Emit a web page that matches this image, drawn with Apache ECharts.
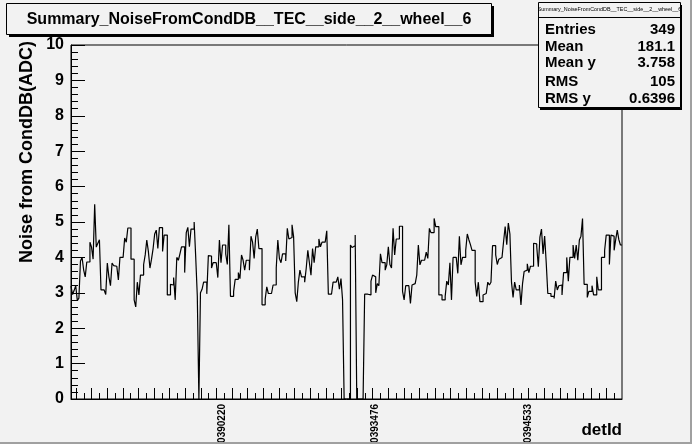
<!DOCTYPE html>
<html><head><meta charset="utf-8">
<script src="https://cdn.jsdelivr.net/npm/echarts@6/dist/echarts.min.js"></script>
<style>html,body{margin:0;padding:0;background:#f2f2f2}#c{width:692px;height:444px}</style>
</head><body><div id="c"></div>
<script>
const titleText = 'Summary_NoiseFromCondDB__TEC__side__2__wheel__6';
const yAxisTitle = 'Noise from CondDB(ADC)';
const xAxisTitle = 'detId';
const labelBins = [95, 192, 289];
const labelTexts = ['470390220', '470393476', '470394533'];
const statNames = ['Entries', 'Mean', 'Mean y', 'RMS', 'RMS y'];
const statValues = ['349', '181.1', '3.758', '105', '0.6396'];
const yMin = 0, yMax = 10, yStep = 1;
const xTickFirst = 3.2, xTickStep = 9.885;

const noise = [
  3.19, 2.95, 3.07, 3.2, 2.78, 2.85, 3.9, 4.0, 3.65, 3.45,
  3.87, 3.87, 4.43, 4.29, 3.95, 5.5, 4.29, 4.4, 4.5, 3.08,
  3.08, 3.05, 2.95, 3.84, 3.45, 3.2, 3.84, 3.77, 3.75, 3.73,
  3.36, 4.0, 4.0, 4.02, 4.55, 4.43, 4.83, 4.83, 3.95, 3.95,
  2.8, 2.6, 3.3, 2.94, 3.5, 3.5, 3.8, 4.07, 4.49, 4.17,
  3.7, 3.95, 4.25, 4.66, 4.77, 4.25, 4.84, 4.84, 4.17, 4.63,
  4.63, 2.94, 2.94, 3.24, 3.22, 3.43, 2.8, 4.0, 3.92, 4.1,
  4.3, 4.3, 3.57, 4.7, 4.85, 4.3, 4.8, 4.8, 5.0, 4.0,
  2.9, 0, 3.0, 3.1, 3.3, 3.3, 2.97, 4.05, 4.04, 3.7,
  3.85, 3.85, 3.85, 3.43, 4.49, 3.85, 4.35, 4.35, 4.1, 3.8,
  4.92, 2.9, 2.9, 3.04, 3.38, 3.38, 3.57, 3.4, 4.07, 3.92,
  3.64, 3.92, 3.92, 3.64, 4.6, 4.43, 3.97, 4.58, 4.8, 4.25,
  4.25, 2.66, 2.66, 2.82, 3.17, 2.98, 2.98, 2.98, 3.22, 3.22,
  3.7, 4.49, 3.97, 3.85, 4.1, 4.1, 3.9, 4.82, 4.52, 4.56,
  4.92, 4.58, 3.0, 2.75, 3.3, 3.64, 3.45, 3.45, 3.3, 3.7,
  4.2, 3.85, 3.5, 4.25, 3.85, 4.3, 4.3, 4.52, 4.3, 4.43,
  4.43, 4.43, 4.75, 2.96, 2.96, 2.96, 3.3, 3.3, 3.3, 3.45,
  3.1, 3.4, 2.8, 0, 0, 0, 0, 4.35, 4.28, 4.33,
  4.63, 0, 0, 0, 0, 0, 2.96, 2.96, 2.94, 2.94,
  3.33, 3.5, 3.45, 3.0, 3.26, 3.2, 4.1, 3.85, 3.85, 3.64,
  3.79, 4.3, 3.8, 3.7, 4.82, 4.07, 4.52, 4.52, 4.88, 4.88,
  3.04, 2.8, 3.2, 3.2, 3.22, 2.7, 3.22, 3.26, 3.26, 3.5,
  4.35, 3.79, 3.92, 3.92, 3.95, 4.15, 3.97, 4.82, 4.7, 4.7,
  5.1, 4.87, 4.87, 2.94, 2.94, 2.8, 2.8, 2.9, 3.33, 3.22,
  3.85, 2.8, 4.0, 4.0, 4.02, 3.55, 4.6, 3.79, 4.0, 4.0,
  4.2, 4.66, 4.5, 4.36, 4.2, 4.2, 3.3, 2.9, 3.3, 2.75,
  2.75, 2.94, 2.98, 3.0, 3.3, 3.22, 3.3, 4.33, 4.33, 4.07,
  3.8, 3.95, 4.0, 4.0, 4.45, 4.87, 4.36, 4.97, 4.66, 3.3,
  2.87, 3.3, 3.08, 3.08, 3.22, 2.66, 3.26, 3.6, 3.64, 3.82,
  3.57, 3.75, 3.75, 4.4, 4.38, 4.3, 3.74, 4.57, 4.8, 4.1,
  4.6, 3.85, 2.98, 2.98, 2.9, 2.9, 2.84, 3.33, 3.08, 3.2,
  3.22, 2.94, 3.57, 3.57, 4.0, 3.33, 4.0, 4.0, 4.35, 3.97,
  4.35, 3.92, 4.49, 4.6, 5.1, 3.24, 3.24, 2.87, 3.04, 3.04,
  3.2, 2.94, 2.94, 3.45, 3.08, 3.08, 4.0, 4.0, 4.2, 4.63,
  4.63, 3.8, 4.63, 4.6, 4.2, 4.5, 4.77, 4.5, 4.35
];

const nBins = noise.length;
const stepData = noise.map((v, i) => [i, v]);
stepData.push([nBins, noise[nBins - 1]]);

const longTicks = [], shortTicks = [];
for (let t = xTickFirst; t < nBins; t += xTickStep) {
  longTicks.push(+t.toFixed(3));
  const s = t + xTickStep / 2;
  if (s < nBins) shortTicks.push(+s.toFixed(3));
}
const labelValues = labelBins.map(b => b + 0.5);

const FONT = "'Liberation Sans', Arial, Helvetica, sans-serif";
const BG = '#f2f2f2';

const chart = echarts.init(document.getElementById('c'), null, {renderer: 'canvas'});

const graphics = [];
graphics.push({type: 'rect', z: 200, shape: {x: 690, y: 0, width: 2, height: 444}, style: {fill: '#a0a0a0'}});
graphics.push({type: 'rect', z: 200, shape: {x: 0, y: 442, width: 692, height: 2}, style: {fill: '#a0a0a0'}});
graphics.push({type: 'rect', z: 100, shape: {x: 9, y: 6, width: 485, height: 31}, style: {fill: '#000'}});
graphics.push({type: 'rect', z: 101, shape: {x: 6.5, y: 3.5, width: 485, height: 31}, style: {fill: BG, stroke: '#000', lineWidth: 1}});
graphics.push({type: 'text', z: 102, x: 249, y: 19.5, style: {text: titleText, font: 'bold 16px ' + FONT, fill: '#000', align: 'center', verticalAlign: 'middle'}});
graphics.push({type: 'rect', z: 100, shape: {x: 540, y: 5, width: 142, height: 105}, style: {fill: '#000'}});
graphics.push({type: 'rect', z: 101, shape: {x: 538.5, y: 2.5, width: 142, height: 105}, style: {fill: BG, stroke: '#000', lineWidth: 1}});
graphics.push({type: 'line', z: 102, shape: {x1: 538.5, y1: 17.5, x2: 680.5, y2: 17.5}, style: {stroke: '#000', lineWidth: 1}});
graphics.push({type: 'text', z: 102, x: 609.5, y: 10, style: {text: titleText, font: '5.4px ' + FONT, fill: '#000', align: 'center', verticalAlign: 'middle'}});
const rowY = [29.5, 47, 63, 82, 98.5];
statNames.forEach((n, i) => {
  graphics.push({type: 'text', z: 102, x: 545, y: rowY[i], style: {text: n, font: 'bold 15px ' + FONT, fill: '#000', align: 'left', verticalAlign: 'middle'}});
  graphics.push({type: 'text', z: 102, x: 675, y: rowY[i], style: {text: statValues[i], font: 'bold 15px ' + FONT, fill: '#000', align: 'right', verticalAlign: 'middle'}});
});
graphics.push({type: 'text', z: 102, x: 27, y: 152, rotation: Math.PI / 2, style: {text: yAxisTitle, font: 'bold 18px ' + FONT, fill: '#000', align: 'center', verticalAlign: 'middle'}});
graphics.push({type: 'text', z: 102, x: 622, y: 430, style: {text: xAxisTitle, font: 'bold 17px ' + FONT, fill: '#000', align: 'right', verticalAlign: 'middle'}});

chart.setOption({
  animation: false,
  backgroundColor: BG,
  grid: {left: 71, top: 45, width: 551, height: 354, show: true, borderColor: '#000', borderWidth: 1, backgroundColor: 'transparent', containLabel: false, outerBoundsMode: 'none'},
  xAxis: [
    {
      type: 'value', min: 0, max: nBins, position: 'bottom',
      axisLine: {show: true, onZero: false, lineStyle: {color: '#000', width: 1}},
      axisTick: {show: true, inside: true, length: 11, customValues: longTicks, lineStyle: {color: '#000'}},
      axisLabel: {show: true, customValues: labelValues, rotate: 90, margin: 5, color: '#000', fontFamily: FONT, fontWeight: 'bold', fontSize: 10,
        formatter: v => { const k = labelBins.indexOf(Math.floor(v)); return k >= 0 ? labelTexts[k] : ''; }},
      splitLine: {show: false}
    },
    {
      type: 'value', min: 0, max: nBins, position: 'bottom',
      axisLine: {show: false},
      axisTick: {show: true, inside: true, length: 6, customValues: shortTicks, lineStyle: {color: '#000'}},
      axisLabel: {show: false},
      splitLine: {show: false}
    }
  ],
  yAxis: {
    type: 'value', min: yMin, max: yMax, interval: yStep,
    axisLine: {show: true, lineStyle: {color: '#000', width: 1}},
    axisTick: {show: true, inside: true, length: 14, lineStyle: {color: '#000'}},
    minorTick: {show: true, splitNumber: 5, length: 7, lineStyle: {color: '#000'}},
    axisLabel: {color: '#000', fontFamily: FONT, fontWeight: 'bold', fontSize: 16, margin: 7},
    splitLine: {show: false}
  },
  series: [{
    type: 'line', xAxisIndex: 0, step: 'end', data: stepData, symbol: 'none',
    lineStyle: {color: '#000', width: 1.2}, clip: true
  }],
  graphic: graphics
});
</script></body></html>
